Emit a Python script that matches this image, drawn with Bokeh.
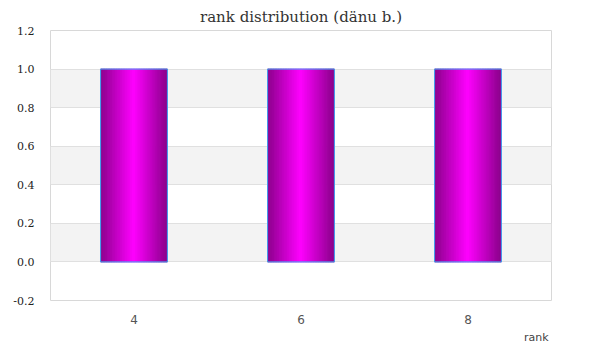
from bokeh.plotting import figure
from bokeh.models import Range1d, FixedTicker, NumeralTickFormatter, Title
from bokeh.embed import file_html
from bokeh.resources import INLINE

# data
ranks = [4, 6, 8]
counts = [1.0, 1.0, 1.0]
y_ticks = [-0.2, 0.0, 0.2, 0.4, 0.6, 0.8, 1.0, 1.2]
title_text = "rank distribution (dänu b.)"
x_label = "rank"

bar_width = 0.8
n_slices = 40

def lerp_color(t):
    # t=0 edge (dark purple), t=1 centre (bright magenta)
    c0 = (0x8a, 0x00, 0x8a)
    c1 = (0xff, 0x00, 0xff)
    r = int(round(c0[0] + (c1[0] - c0[0]) * t))
    g = int(round(c0[1] + (c1[1] - c0[1]) * t))
    b = int(round(c0[2] + (c1[2] - c0[2]) * t))
    return "#%02x%02x%02x" % (r, g, b)

p = figure(width=600, height=360, output_backend="svg", toolbar_location=None,
           x_range=Range1d(3, 9), y_range=Range1d(-0.2, 1.2),
           min_border_left=50, min_border_right=49, min_border_bottom=60, min_border_top=30)

p.title.text = title_text
p.title.align = "center"
p.title.text_font = "DejaVu Serif"
p.title.text_font_size = "15px"
p.title.text_font_style = "normal"
p.title.text_color = "#333333"
p.title.standoff = 9
p.title.offset = 0

p.background_fill_color = "white"
p.border_fill_color = "white"
p.outline_line_color = "#d8d8d8"
p.outline_line_width = 1

# gradient bars drawn as thin slices
lefts, rights, tops, bottoms, colors = [], [], [], [], []
for xc, v in zip(ranks, counts):
    x0 = xc - bar_width / 2
    w = bar_width / n_slices
    for i in range(n_slices):
        c = (i + 0.5) / n_slices
        t = 1 - abs(c - 0.5) * 2
        lefts.append(x0 + i * w)
        rights.append(x0 + (i + 1) * w)
        tops.append(v)
        bottoms.append(0)
        colors.append(lerp_color(t))
p.quad(left=lefts, right=rights, top=tops, bottom=bottoms, fill_color=colors,
       line_color=colors, line_width=1)
p.vbar(x=ranks, top=counts, width=bar_width, bottom=0, fill_color=None, line_color="#3fa9f5", line_width=1)

# axes
p.yaxis.ticker = FixedTicker(ticks=y_ticks)
p.yaxis.formatter = NumeralTickFormatter(format="0.0")
p.yaxis.axis_line_color = None
p.yaxis.major_tick_line_color = None
p.yaxis.minor_tick_line_color = None
p.yaxis.major_label_text_font = "DejaVu Serif"
p.yaxis.major_label_text_font_size = "11px"
p.yaxis.major_label_text_color = "#222222"
p.yaxis.major_label_standoff = 10

p.xaxis.ticker = FixedTicker(ticks=ranks)
p.xaxis.axis_line_color = None
p.xaxis.major_tick_line_color = None
p.xaxis.minor_tick_line_color = None
p.xaxis.major_label_text_font = "DejaVu Sans"
p.xaxis.major_label_text_font_size = "12px"
p.xaxis.major_label_text_color = "#555555"
p.xaxis.major_label_standoff = 8

p.xgrid.grid_line_color = None
p.ygrid.ticker = FixedTicker(ticks=y_ticks)
p.ygrid.grid_line_color = "#e0e0e0"
p.ygrid.band_fill_color = "#f3f3f3"
p.ygrid.band_fill_alpha = 1.0

lab = Title(text=x_label, align="right", text_font="DejaVu Sans", text_font_size="11px",
            text_font_style="normal", text_color="#444444", standoff=4, offset=3)
p.add_layout(lab, "below")

open("out.html", "w").write(file_html(p, INLINE))
